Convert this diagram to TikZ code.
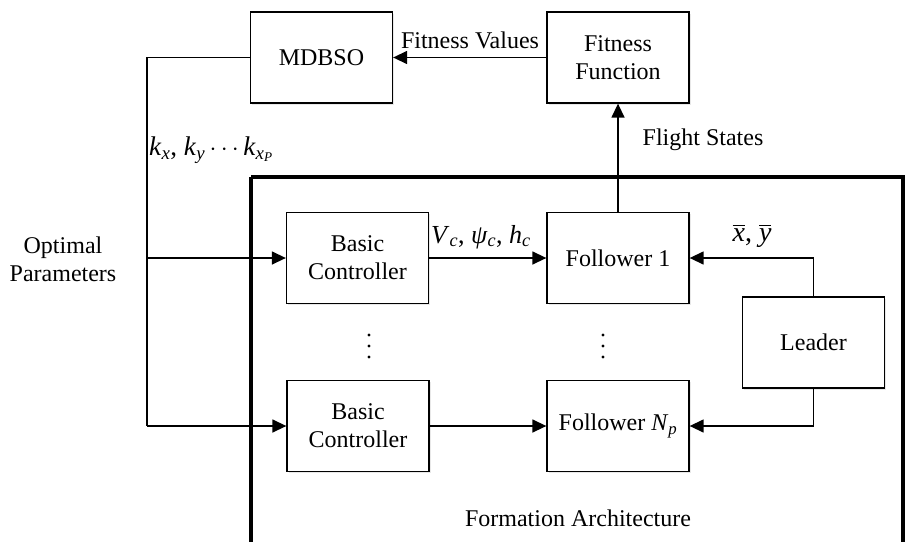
\documentclass[tikz,border=0pt]{standalone}
\usepackage{fontspec}
\setmainfont{Liberation Serif}
\usetikzlibrary{arrows.meta,shadows}
\newcommand{\iv}[1]{\textit{#1}}
\newcommand{\sbs}[1]{\textsubscript{#1}}
\newcommand{\ovl}[1]{\leavevmode\vbox{\hrule height 1pt\kern2.5pt\hbox{#1}}}
\begin{document}
\begin{tikzpicture}[x=1pt,y=-1pt,
  blk/.style={draw,line width=1.3pt,fill=white,minimum width=142pt,minimum height=91pt,
    align=center,inner sep=0pt,font=\fontsize{24}{28}\selectfont,
    drop shadow={shadow xshift=1.5pt,shadow yshift=-1.5pt,opacity=0.18}},
  conn/.style={line width=1.4pt},
  arr/.style={conn,-{Triangle[length=14pt,width=13pt]}},
  lbl/.style={font=\fontsize{24}{28}\selectfont,align=center,inner sep=0pt},
  mlbl/.style={font=\fontsize{27}{30}\selectfont,inner sep=0pt}]
\useasboundingbox (0,0) rectangle (907,541);
\begin{scope}
  \clip (0,0) rectangle (907,541);
  \draw[line width=3.5pt] (251,177) -- (903,177) -- (903,620) (251,620) -- (251,177);
\end{scope}
% blocks
\node[blk] (mdbso) at (321.5,57.5) {MDBSO};
\node[blk] (fit) at (618,57.5) {Fitness\\Function};
\node[blk] (bc1) at (357.5,258) {Basic\\Controller};
\node[blk] (f1) at (618,258) {Follower 1};
\node[blk] (leader) at (813.5,342.5) {Leader};
\node[blk] (bc2) at (358,426) {Basic\\Controller};
\node[blk] (fN) at (618,426) {Follower \iv{N}\sbs{\iv{p}}};
% coordinates
\coordinate (lt) at (147,57.5);
\coordinate (lm) at (147,258);
\coordinate (lb) at (147,426);
% connectors
\draw[arr] (fit.west) -- (mdbso.east);
\draw[conn] (mdbso.west) -- (lt) -- (lb);
\draw[arr] (lb) -- (bc2.west);
\draw[arr] (lm) -- (bc1.west);
\draw[arr] (f1.north) -- (fit.south);
\draw[arr] (bc1.east) -- (f1.west);
\draw[arr] (bc2.east) -- (fN.west);
\draw[arr] (leader.north) |- (f1.east);
\draw[arr] (leader.south) |- (fN.east);
% dots
\foreach \yy in {335,346,357} {
  \fill (369,\yy) circle (1.6pt);
  \fill (603,\yy) circle (1.6pt);
}
% labels
\node[lbl] (fv) at (470,40) {Fitness Values};
\node[lbl] (fs) at (703,140) {Flight States};
\node[lbl] (op) at (63,259) {Optimal\\Parameters};
\node[lbl] (fa) at (578,518) {Formation Architecture};
\node[mlbl,anchor=west] (kl) at (149,150) {\iv{k}\sbs{\iv{x}}, \iv{k}\sbs{\iv{y}}\,$\cdots$\,\iv{k}\sbs{\iv{x}\sbs{\iv{P}}}};
\node[mlbl] (vl) at (481,237) {\fontsize{26}{30}\selectfont\iv{V}\sbs{\iv{c}}, \iv{ψ}\sbs{\iv{c}}, \iv{h}\sbs{\iv{c}}};
\node[mlbl] (xl) at (752,236) {\fontsize{28}{30}\selectfont\ovl{\iv{x}}, \ovl{\iv{y}}};
\end{tikzpicture}
\end{document}
